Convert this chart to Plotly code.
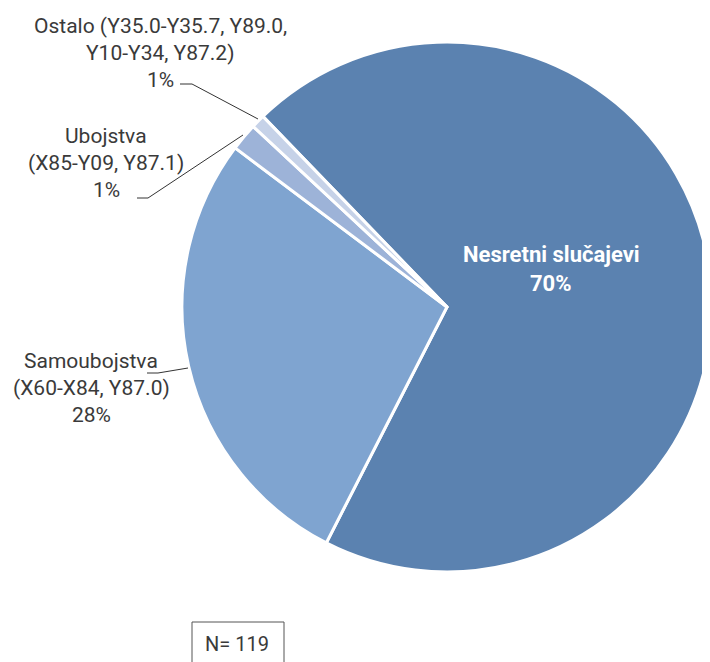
import plotly.graph_objects as go

# counts per category (N = 119)
categories = ["Nesretni slučajevi", "Samoubojstva", "Ubojstva", "Ostalo"]
counts = [83, 33, 2, 1]
percent_labels = ["70%", "28%", "1%", "1%"]
colors = ["#5b82b0", "#7fa4d0", "#9db3d8", "#c6d2e8"]

W, H = 710, 662
OFF = 8  # page body margin
TEXT = "#3a3a3a"
FONT = "Roboto"


def px(x, y):
    """pixel coords of the screenshot -> paper coords"""
    return (x - OFF) / W, 1 - (y - OFF) / H


fig = go.Figure(go.Pie(
    labels=categories,
    values=counts,
    sort=False,
    direction="clockwise",
    rotation=-44,
    marker=dict(colors=colors, line=dict(color="white", width=3)),
    textinfo="none",
    hoverinfo="skip",
    showlegend=False,
    domain=dict(x=[0.245, 0.9915], y=[0.148, 0.9486]),
))

annotations = []


def add_lines(lines, cx, y0, step=27, size=21, color=TEXT, bold=False):
    for i, line in enumerate(lines):
        x, y = px(cx, y0 + i * step)
        txt = f"<b>{line}</b>" if bold else line
        annotations.append(dict(
            x=x, y=y, xref="paper", yref="paper", text=txt, showarrow=False,
            xanchor="center", yanchor="middle",
            font=dict(family=FONT, size=size, color=color),
        ))


add_lines(["Ostalo (Y35.0-Y35.7, Y89.0,", "Y10-Y34, Y87.2)", percent_labels[3]], 160, 26)
add_lines(["Ubojstva", "(X85-Y09, Y87.1)", percent_labels[2]], 106, 136)
add_lines(["Samoubojstva", "(X60-X84, Y87.0)", percent_labels[1]], 91, 361)
add_lines([categories[0], percent_labels[0]], 551, 255, step=28, size=22, color="white", bold=True)

x, y = px(237, 644)
annotations.append(dict(x=x, y=y, xref="paper", yref="paper", text="N= 119",
                        xanchor="center", yanchor="middle", showarrow=False,
                        font=dict(family=FONT, size=20, color=TEXT)))

shapes = []


def leader(points):
    path = "M " + " L ".join(f"{px(a, b)[0]},{px(a, b)[1]}" for a, b in points)
    shapes.append(dict(type="path", path=path, xref="paper", yref="paper",
                       line=dict(color="#333333", width=1)))


leader([(180, 84), (192, 84), (258, 119)])
leader([(137, 198), (148, 198), (243, 135)])
leader([(147, 373), (158, 373), (188, 368)])

x0, y0 = px(192, 622)
x1, y1 = px(284, 675)
shapes.append(dict(type="rect", xref="paper", yref="paper", x0=x0, y0=y0, x1=x1, y1=y1,
                   line=dict(color="#555555", width=1)))

fig.update_layout(
    width=W, height=H,
    margin=dict(l=0, r=0, t=0, b=0),
    paper_bgcolor="white",
    plot_bgcolor="white",
    annotations=annotations,
    shapes=shapes,
)

fig.write_html("out.html")
